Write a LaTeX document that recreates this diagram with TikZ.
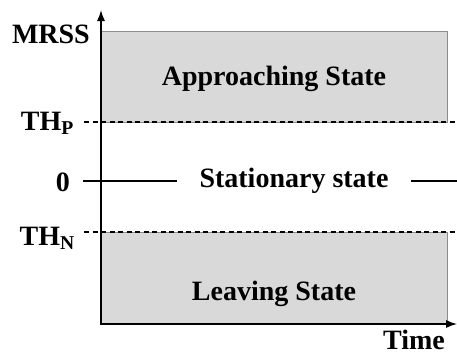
\documentclass[tikz,border=0pt]{standalone}
\usepackage{fontspec}
\setmainfont{Liberation Serif}
\usetikzlibrary{arrows.meta,positioning}

\tikzset{
  zone/.style={fill=black!15, draw=black!45, line width=0.8pt},
  thres/.style={dashed, dash pattern=on 5pt off 3.5pt, line width=1.2pt},
  axis/.style={line width=1.3pt, -{Latex[length=11pt,width=8pt]}},
  lbl/.style={inner sep=0pt, font=\fontsize{28}{32}\selectfont\bfseries}
}

\begin{document}
\begin{tikzpicture}[x=1pt, y=-1pt]
  \useasboundingbox (0,0) rectangle (457,356);

  % shaded zones
  \draw[zone] (101,31) rectangle (447,122);
  \draw[zone] (101,232) rectangle (447,324);

  % axes
  \coordinate (o) at (101,324);
  \coordinate (ytop) at (101,10);
  \coordinate (xend) at (457,324);
  \draw[axis] (o) -- (ytop);
  \draw[axis] ([xshift=-0.6pt]o) -- (xend);

  % thresholds
  \coordinate (thpl) at (84,122);
  \coordinate (thpr) at (457,122);
  \coordinate (thnl) at (84,232);
  \coordinate (thnr) at (457,232);
  \draw[thres] (thpl) -- (thpr);
  \draw[thres] (thnl) -- (thnr);

  % zero line
  \node[lbl, inner xsep=22pt] (stat) at (294,181) {Stationary state};
  \coordinate (zl) at (83,181);
  \coordinate (zr) at (457,181);
  \draw[line width=2pt] (zl) -- (stat);
  \draw[line width=2pt] (stat) -- (zr);

  % labels
  \node[lbl, anchor=base east] (mrss) at (90,43) {MRSS};
  \node[lbl, anchor=base east] (thp) at (74,130) {TH\textsubscript{P}};
  \node[lbl, anchor=base east] (zero) at (70,191) {0};
  \node[lbl, anchor=base east] (thn) at (75,245) {TH\textsubscript{N}};
  \node[lbl, anchor=base] (time) at (414,349) {Time};

  \node[lbl, anchor=base] (appr) at (274,85) {Approaching State};
  \node[lbl, anchor=base] (leav) at (274,300) {Leaving State};
\end{tikzpicture}
\end{document}
